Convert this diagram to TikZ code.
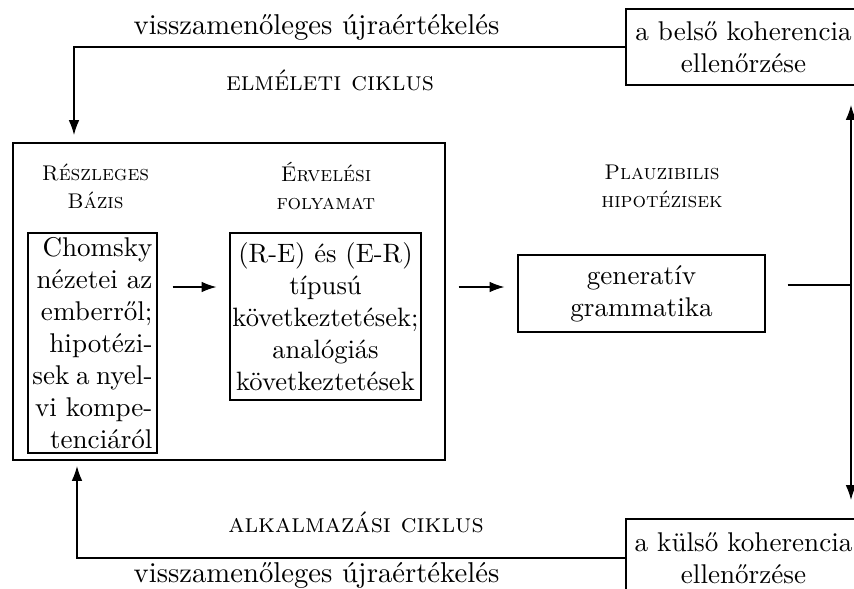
\documentclass[tikz,border=0pt]{standalone}
\usetikzlibrary{arrows.meta}
% one drawing unit
\def\pxu{0.3765pt}
% a flush-right line of fixed width whose spaces may shrink
\newcommand\chomline[1]{\hbox to 45.2pt{\hfil #1}}
\begin{document}
\begin{tikzpicture}[x=0.3765pt,y=-0.3765pt,
  box/.style={draw, line width=0.45pt, inner sep=1pt, font=\fontsize{10.2}{12}\selectfont},
  conn/.style={line width=0.45pt, -{Latex[length=5.6pt,width=4pt]}},
  plain/.style={line width=0.45pt},
  heading/.style={align=center, inner sep=0pt, font=\fontsize{8}{10.5}\selectfont\scshape},
  cyc/.style={inner sep=0pt, font=\fontsize{10}{12}\selectfont\scshape},
  ret/.style={inner sep=0pt, font=\fontsize{10.8}{13}\selectfont}]
\clip (0,0) rectangle (854,589);

% the big frame with its two inner boxes
\node[box, inner xsep=0pt, minimum width={432*\pxu}, minimum height={317*\pxu}] (big) at (229,301.5) {};
\node[box, inner xsep=0pt, align=right, minimum width={129*\pxu}, minimum height={220*\pxu}] (chom) at (92.5,343)
  {\chomline{Chomsky}\\ \chomline{nézetei az}\\ \chomline{emberről;}\\ \chomline{hipotézi-}\\
   \chomline{sek a nyel-}\\ \chomline{vi kompe-}\\ \chomline{tenciáról}};
\node[box, inner xsep=0pt, align=center, minimum width={191*\pxu}, minimum height={167*\pxu},
  font=\fontsize{10}{12}\selectfont] (reas) at (325.5,316.5)
  {(R-E) és (E-R)\\ típusú\\ következtetések;\\ analógiás\\ következtetések};
\node[box, align=center, minimum width={247*\pxu}, minimum height={77*\pxu}] (gen) at (641.5,293.5)
  {generatív\\ grammatika};

% coherence checks
\node[box, align=center, minimum width={235*\pxu}, minimum height={76*\pxu}] (topbox) at (743.5,47)
  {a belső koherencia\\ ellenőrzése};
\node[box, align=center, minimum width={235*\pxu}, minimum height={78*\pxu}] (botbox) at (743.5,558)
  {a külső koherencia\\ ellenőrzése};

% headings
\node[heading] (h1) at (95.5,186) {Részleges\\ Bázis};
\node[heading] (h2) at (326,186) {Érvelési\\ folyamat};
\node[heading] (h3) at (662,186) {Plauzibilis\\ hipotézisek};

% cycle labels
\node[cyc] (elm) at (330,80) {elméleti ciklus};
\node[cyc] (alk) at (356,522) {alkalmazási ciklus};
\node[ret] (ret1) at (316.5,27) {visszamenőleges újraértékelés};
\node[ret] (ret2) at (316.5,575) {visszamenőleges újraértékelés};

% connector points
\coordinate (row) at (0,287);
\coordinate (tl) at (74,135);
\coordinate (bl) at (77,466);
\coordinate (jn) at (851,285);
\coordinate (up) at (851,105);
\coordinate (dn) at (851,500);

% connectors
\draw[conn] (topbox.west) -| (tl);
\draw[conn] (botbox.west) -| (bl);
\draw[conn, shorten <={15*\pxu}, shorten >={13*\pxu}] (chom.east |- row) -- (reas.west |- row);
\draw[conn, shorten <={13*\pxu}, shorten >={13*\pxu}] (big.east |- row) -- (gen.west |- row);
\draw[plain, shorten <={22*\pxu}] (gen.east |- jn) -- (jn);
\draw[conn] (jn) -- (up);
\draw[conn] (jn) -- (dn);
\end{tikzpicture}
\end{document}
